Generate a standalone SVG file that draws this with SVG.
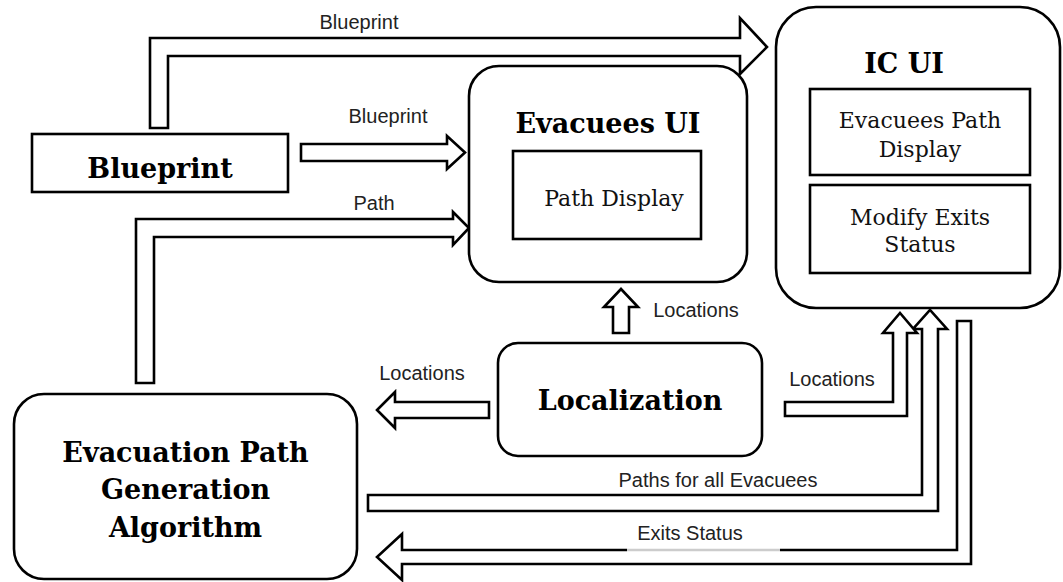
<svg xmlns="http://www.w3.org/2000/svg" width="1063" height="582" viewBox="0 0 1063 582">
<style>
.box{fill:#fff;stroke:#000;stroke-width:2.6}
.inner{fill:#fff;stroke:#000;stroke-width:2.6}
.arr{fill:#fff;stroke:#000;stroke-width:2.6;stroke-linejoin:miter}
.title{font-family:"DejaVu Serif",serif;font-weight:bold;font-size:27px;fill:#000;text-anchor:middle}
.sub{font-family:"DejaVu Serif",serif;font-size:22px;fill:#111;text-anchor:middle}
.lbl{font-family:"Liberation Sans",Arial,sans-serif;font-size:20px;fill:#222;text-anchor:middle}
</style>
<rect width="1063" height="582" fill="#fff"/>
<g id="connectors">
<polygon class="arr" points="150,128 150,38 740,38 740,18 767,47 740,74 740,56 168,56 168,128"/>
<text class="lbl" x="359" y="29">Blueprint</text>
<polygon class="arr" points="301,144 447,144 447,136 465,152.5 447,169 447,161 301,161"/>
<text class="lbl" x="388" y="123">Blueprint</text>
<polygon class="arr" points="136,383 136,219 453,219 453,212 469,228 453,245 453,237 154,237 154,383"/>
<text class="lbl" x="374" y="210">Path</text>
<polygon class="arr" points="613,333 613,307 604,307 621,289 638,307 629,307 629,333"/>
<text class="lbl" x="696" y="317">Locations</text>
<polygon class="arr" points="489,402 395,402 395,392 377,410 395,428 395,418 489,418"/>
<text class="lbl" x="422" y="380">Locations</text>
<polygon class="arr" points="368,495 922,495 922,329 913,329 930,310 947,329 938,329 938,511 368,511"/>
<text class="lbl" x="718" y="487">Paths for all Evacuees</text>
<polygon class="arr" points="785,402 893,402 893,333 883,333 900,313 917,333 907,333 907,416 785,416"/>
<text class="lbl" x="832" y="386">Locations</text>
<polygon class="arr" points="957,321 971,321 971,564 402,564 402,580 377,557 402,534 402,550 957,550"/>
<rect x="627" y="547.5" width="153" height="5" fill="#fff" fill-opacity="0.8"/>
<text class="lbl" x="690" y="540">Exits Status</text>
</g>
<g id="blueprint">
<rect class="box" x="32" y="134" width="256" height="58"/>
<text class="title" x="160" y="178">Blueprint</text>
</g>
<g id="evacuees-ui">
<rect class="box" x="469" y="66" width="278" height="216" rx="30" ry="30"/>
<text class="title" x="608" y="133">Evacuees UI</text>
<rect class="inner" x="513" y="151" width="188" height="88"/>
<text class="sub" x="614" y="206">Path Display</text>
</g>
<g id="ic-ui">
<rect class="box" x="776" y="7" width="284" height="301" rx="40" ry="40"/>
<text class="title" x="904" y="73">IC UI</text>
<rect class="inner" x="810" y="89" width="220" height="86"/>
<text class="sub" x="920" y="128">Evacuees Path</text>
<text class="sub" x="920" y="157">Display</text>
<rect class="inner" x="810" y="185" width="220" height="88"/>
<text class="sub" x="920" y="225">Modify Exits</text>
<text class="sub" x="920" y="252">Status</text>
</g>
<g id="localization">
<rect class="box" x="498" y="343" width="264" height="113" rx="20" ry="20"/>
<text class="title" x="630" y="410">Localization</text>
</g>
<g id="algorithm">
<rect class="box" x="14" y="394" width="343" height="185" rx="30" ry="30"/>
<text class="title" x="185.5" y="462">Evacuation Path</text>
<text class="title" x="185.5" y="499">Generation</text>
<text class="title" x="185.5" y="537">Algorithm</text>
</g>
</svg>
